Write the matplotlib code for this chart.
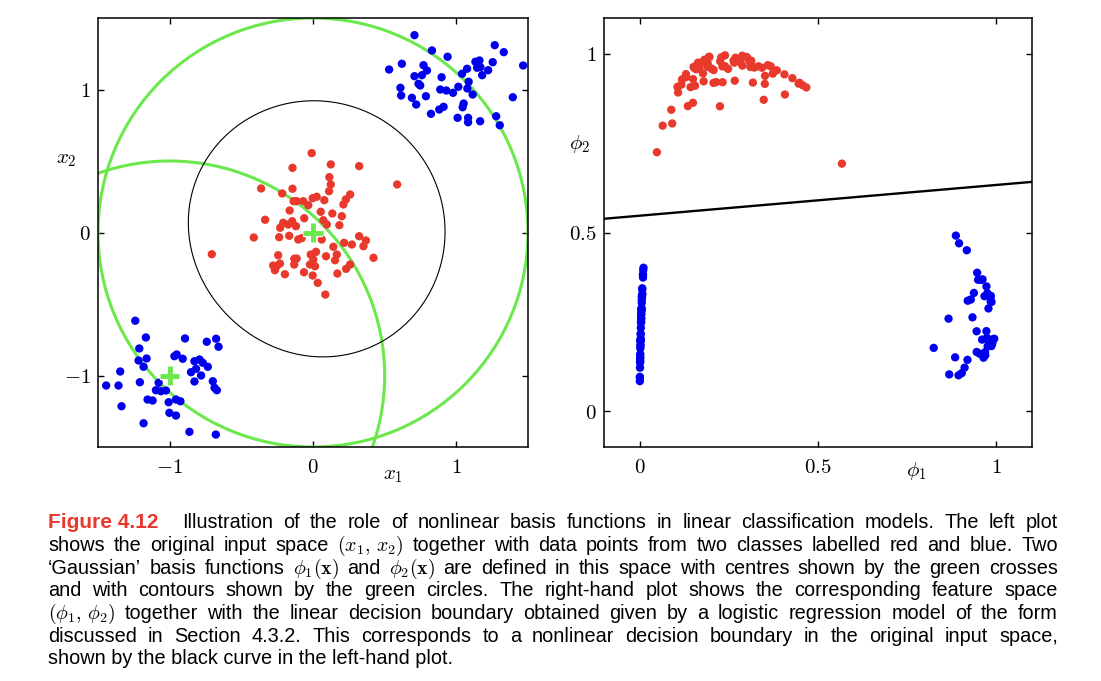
import numpy as np
import matplotlib.pyplot as plt
from matplotlib.patches import Circle
import matplotlib.patheffects as pe

plt.rcParams["mathtext.fontset"] = "cm"
plt.rcParams["font.family"] = ["Liberation Sans", "DejaVu Sans"]

# Points in the original input space (x1, x2)
red_x = [-0.143, -0.362, -0.215, -0.143, -0.135, -0.163, -0.334, -0.208, -0.173, -0.145,
         -0.229, -0.413, -0.236, -0.166, -0.706, -0.243, -0.278, -0.254, -0.231, -0.266,
         -0.196, -0.131, -0.131, -0.009, 0.124, 0.322, 0.114, 0.124, 0.112, 0.026,
         -0.002, 0.079, 0.259, 0.229, 0.212, -0.068, -0.114, -0.033, 0.054, 0.135,
         0.201, -0.061, 0.072, 0.184, -0.119, 0.096, -0.103, -0.079, 0.061, 0.217,
         0.271, 0.322, 0.369, 0.352, 0.142, 0.166, 0.154, 0.021, -0.016, 0.002,
         -0.021, 0.014, 0.091, -0.114, 0.422, 0.259, 0.231, -0.063, -0.002, 0.170,
         0.033, 0.086, 0.587]
red_y = [0.452, 0.308, 0.273, 0.306, 0.219, 0.154, 0.089, 0.068, 0.056, 0.079,
         0.033, -0.035, -0.033, -0.023, -0.152, -0.159, -0.231, -0.236, -0.217, -0.264,
         -0.292, -0.184, -0.224, 0.555, 0.476, 0.464, 0.387, 0.336, 0.289, 0.250,
         0.240, 0.226, 0.266, 0.231, 0.196, 0.219, 0.219, 0.191, 0.145, 0.133,
         0.114, 0.100, 0.086, 0.051, 0.044, 0.056, -0.049, -0.040, -0.049, -0.072,
         -0.084, -0.026, -0.056, -0.096, -0.100, -0.154, -0.194, -0.135, -0.154, -0.189,
         -0.224, -0.236, -0.166, -0.182, -0.177, -0.224, -0.254, -0.278, -0.301, -0.287,
         -0.352, -0.434, 0.336]

blue_x = [0.708, 0.830, 1.268, 1.331, 0.939, 0.620, 0.531, 0.771, 0.795, 0.760,
          0.708, 1.133, 1.161, 1.145, 1.168, 1.254, 1.222, 1.180, 1.075, 1.040,
          1.466, 0.897, 0.736, 0.748, 1.086, 0.610, 0.615, 0.690, 0.788, 0.888,
          0.930, 0.977, 1.014, 1.077, 1.114, 1.394, 0.720, 1.051, 1.044, 0.911,
          0.881, 0.823, 1.009, 1.082, 1.082, 1.166, 1.278, 1.303,
          -1.240, -1.166, -0.893, -0.741, -0.676, -0.659, -1.212, -0.967, -0.951, -1.161,
          -1.217, -0.909, -0.827, -0.792, -0.769, -1.182, -0.734, -0.816, -0.851, -1.345,
          -0.781, -1.443, -1.357, -1.208, -0.827, -0.699, -0.687, -0.671, -1.077, -1.096,
          -1.061, -1.026, -1.154, -1.119, -1.007, -0.956, -0.925, -1.336, -1.002, -0.956,
          -1.182, -0.862, -0.678]
blue_y = [1.380, 1.273, 1.310, 1.261, 1.229, 1.180, 1.140, 1.170, 1.133, 1.100,
          1.093, 1.194, 1.203, 1.152, 1.156, 1.191, 1.135, 1.100, 1.145, 1.110,
          1.168, 1.086, 1.040, 1.028, 1.054, 1.012, 0.958, 0.942, 0.953, 1.000,
          0.993, 0.977, 1.019, 1.007, 0.965, 0.946, 0.895, 0.902, 0.876, 0.879,
          0.860, 0.830, 0.802, 0.802, 0.771, 0.778, 0.813, 0.750,
          -0.617, -0.734, -0.741, -0.764, -0.743, -0.799, -0.811, -0.865, -0.853, -0.881,
          -0.895, -0.883, -0.900, -0.888, -0.911, -0.939, -0.939, -0.953, -0.977, -0.972,
          -1.000, -1.070, -1.070, -1.047, -1.042, -1.040, -1.086, -1.103, -1.051, -1.103,
          -1.110, -1.105, -1.168, -1.175, -1.187, -1.168, -1.180, -1.215, -1.261, -1.280,
          -1.334, -1.394, -1.413]

# Gaussian basis functions: centres and width (2 s^2), green contour radius
centre_1 = (-1.0, -1.0)
centre_2 = (0.0, 0.0)
basis_width = 1.42
contour_radius = 1.5

# Logistic regression boundary in feature space: phi2 = b0 + b1 * phi1
b0 = 0.547
b1 = 0.086

left_ticks = [-1, 0, 1]
left_ticklabels = ["$-1$", "$0$", "$1$"]
right_ticks = [0, 0.5, 1]
right_ticklabels = ["$0$", "$0.5$", "$1$"]

caption_head = "Figure 4.12"
caption_lines = [
    "Illustration of the role of nonlinear basis functions in linear classification models. The left plot",
    r"shows the original input space $(x_1,\,x_2)$ together with data points from two classes labelled red and blue. Two",
    r"‘Gaussian’ basis functions $\phi_1(\mathbf{x})$ and $\phi_2(\mathbf{x})$ are defined in this space with centres shown by the green crosses",
    "and with contours shown by the green circles. The right-hand plot shows the corresponding feature space",
    r"$(\phi_1,\,\phi_2)$ together with the linear decision boundary obtained given by a logistic regression model of the form",
    "discussed in Section 4.3.2. This corresponds to a nonlinear decision boundary in the original input space,",
    "shown by the black curve in the left-hand plot.",
]

RED = "#e8392c"
BLUE = "#0000ee"
GREEN = "#6be84c"


def basis(x, y, c):
    return np.exp(-((np.asarray(x) - c[0]) ** 2 + (np.asarray(y) - c[1]) ** 2) / basis_width)


# Feature space coordinates
red_phi1 = basis(red_x, red_y, centre_1)
red_phi2 = basis(red_x, red_y, centre_2)
blue_phi1 = basis(blue_x, blue_y, centre_1)
blue_phi2 = basis(blue_x, blue_y, centre_2)

W, H = 1101, 681
fig = plt.figure(figsize=(W / 100, H / 100), dpi=100)
ax1 = fig.add_axes([98 / W, 1 - 447 / H, 430 / W, 429 / H])
ax2 = fig.add_axes([604 / W, 1 - 447 / H, 428 / W, 429 / H])

# ---- left plot: input space ----
for c in (centre_1, centre_2):
    ax1.add_patch(Circle(c, contour_radius, fill=False, color=GREEN, lw=2.2, zorder=2))

gx = np.linspace(-1.5, 1.5, 500)
GX, GY = np.meshgrid(gx, gx)
F = basis(GX, GY, centre_2) - (b0 + b1 * basis(GX, GY, centre_1))
ax1.contour(GX, GY, F, levels=[0], colors="k", linewidths=0.8, zorder=2)

ax1.scatter(red_x, red_y, s=36, color=RED, edgecolors="none", zorder=3)
ax1.scatter(blue_x, blue_y, s=36, color=BLUE, edgecolors="none", zorder=3)

for c in (centre_1, centre_2):
    ax1.plot(c[0], c[1], marker="+", ms=14, mew=3.5, color=GREEN, zorder=4,
             path_effects=[pe.withStroke(linewidth=6, foreground="white")])

ax1.set_xlim(-1.5, 1.5)
ax1.set_ylim(-1.5, 1.5)
ax1.set_xticks(left_ticks)
ax1.set_xticklabels(left_ticklabels)
ax1.set_yticks(left_ticks)
ax1.set_yticklabels(left_ticklabels)
ax1.text(0.686, -0.066, "$x_1$", transform=ax1.transAxes, ha="center", va="center", fontsize=15)
ax1.text(-0.074, 0.669, "$x_2$", transform=ax1.transAxes, ha="center", va="center", fontsize=15)

# ---- right plot: feature space ----
ax2.scatter(red_phi1, red_phi2, s=36, color=RED, edgecolors="none", zorder=3)
ax2.scatter(blue_phi1, blue_phi2, s=36, color=BLUE, edgecolors="none", zorder=3)
line_phi1 = np.array([-0.1, 1.1])
ax2.plot(line_phi1, b0 + b1 * line_phi1, color="k", lw=1.7, zorder=2)

ax2.set_xlim(-0.1, 1.1)
ax2.set_ylim(-0.1, 1.1)
ax2.set_xticks(right_ticks)
ax2.set_xticklabels(right_ticklabels)
ax2.set_yticks(right_ticks)
ax2.set_yticklabels(right_ticklabels)
ax2.text(0.729, -0.056, r"$\phi_1$", transform=ax2.transAxes, ha="center", va="center", fontsize=15)
ax2.text(-0.058, 0.706, r"$\phi_2$", transform=ax2.transAxes, ha="center", va="center", fontsize=15)

for ax in (ax1, ax2):
    ax.tick_params(direction="in", top=True, right=True, length=4, width=1, labelsize=15)
    ax.tick_params(axis="x", pad=8)
    ax.tick_params(axis="y", pad=5)
    for s in ax.spines.values():
        s.set_linewidth(1.1)

# ---- caption, justified line by line ----
renderer = fig.canvas.get_renderer()


def justify(words, x0, x1, y, **kw):
    objs = [fig.text(x0 / W, 1 - y / H, w, va="baseline", **kw) for w in words]
    widths = [o.get_window_extent(renderer).width for o in objs]
    gap = (x1 - x0 - sum(widths)) / max(len(words) - 1, 1)
    x = x0
    for o, w in zip(objs, widths):
        o.set_x(x / W)
        x += w + gap


base_y = 528.3
step = 22.67
fig.text(48 / W, 1 - base_y / H, caption_head, color=RED, fontsize=15,
         fontweight="bold", va="baseline")
for i, line in enumerate(caption_lines):
    y = base_y + i * step
    x0 = 182 if i == 0 else 48
    if i < len(caption_lines) - 1:
        justify(line.split(" "), x0, 1058, y, fontsize=14.3)
    else:
        fig.text(x0 / W, 1 - y / H, line, fontsize=14.3, va="baseline")

plt.savefig("out.png", dpi=100)
